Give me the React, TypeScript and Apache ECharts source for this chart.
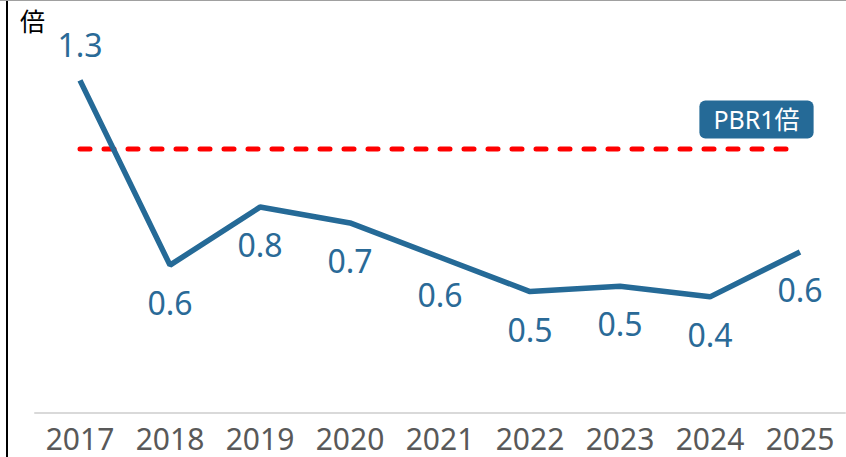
import React, { useEffect, useRef } from "react";
import * as echarts from "echarts";

const years = ["2017", "2018", "2019", "2020", "2021", "2022", "2023", "2024", "2025"];
const pbr = [1.26, 0.56, 0.78, 0.72, 0.59, 0.46, 0.48, 0.44, 0.61];
const pbrOne = [1, 1, 1, 1, 1, 1, 1, 1, 1];
const refLabel = "PBR1倍";
const unitLabel = "倍";

export default function App() {
  const ref = useRef<HTMLDivElement>(null);
  useEffect(() => {
    if (!ref.current) return;
    const chart = echarts.init(ref.current, null, { renderer: "svg" });
    const font = "'Noto Sans', 'Noto Sans CJK JP', sans-serif";
    const clear = "rgba(0,0,0,0)";
    chart.setOption({
      animation: false,
      grid: { left: 35, right: 1, top: 17, bottom: 44 },
      xAxis: {
        type: "category",
        data: years,
        boundaryGap: true,
        axisLine: { show: true, lineStyle: { color: "#d9d9d9", width: 2 } },
        axisTick: { show: false },
        axisLabel: {
          color: "#595959",
          fontSize: 30,
          fontFamily: font,
          margin: 10,
          interval: 0,
        },
        splitLine: { show: false },
      },
      yAxis: {
        type: "value",
        min: 0,
        max: 1.5,
        show: false,
        splitLine: { show: false },
      },
      graphic: [
        { type: "line", shape: { x1: 7, y1: 0, x2: 7, y2: 457 }, style: { stroke: "#000", lineWidth: 2 } },
        { type: "line", shape: { x1: 0, y1: 0.5, x2: 846, y2: 0.5 }, style: { stroke: "#a0a0a0", lineWidth: 1 } },
        {
          type: "text",
          left: 20,
          top: 8,
          style: { text: unitLabel, fontSize: 25, fill: "#000", fontFamily: font },
        },
      ],
      series: [
        {
          type: "line",
          data: pbrOne,
          symbol: "none",
          z: 1,
          lineStyle: { color: "#ff0000", width: 5, type: [10, 14], cap: "round" },
          label: { show: false },
          silent: true,
        },
        {
          type: "line",
          data: pbrOne.map((v, i) =>
            i === pbrOne.length - 1
              ? {
                  value: v,
                  label: {
                    show: true,
                    position: "top",
                    distance: 10,
                    offset: [-43.5, 0],
                    formatter: refLabel,
                    color: "#fff",
                    fontSize: 25,
                    lineHeight: 25,
                    fontFamily: font,
                    backgroundColor: "#256a97",
                    borderRadius: 6,
                    padding: [6, 14, 7, 14],
                  },
                }
              : v
          ),
          symbol: "circle",
          symbolSize: 1,
          showSymbol: true,
          itemStyle: { color: clear },
          lineStyle: { width: 0, color: clear },
          label: { show: false },
          z: 0,
        },
        {
          type: "line",
          data: pbr.map((v, i) => ({
            value: v,
            label: { position: i === 0 ? "top" : "bottom", distance: i === 0 ? 19 : 21 },
          })),
          symbol: "circle",
          symbolSize: 1,
          showSymbol: true,
          itemStyle: { color: clear },
          z: 3,
          lineStyle: { color: "#256a97", width: 5.5 },
          label: {
            show: true,
            color: "#2a6a97",
            fontSize: 32,
            lineHeight: 32,
            fontFamily: font,
            formatter: (p: any) => Number(p.value).toFixed(1),
          },
        },
      ],
    });
    return () => chart.dispose();
  }, []);
  return (
    <div style={{ position: "fixed", left: 0, top: 0, width: 846, height: 457, background: "#fff" }}>
      <div ref={ref} style={{ width: 846, height: 457 }} />
    </div>
  );
}
